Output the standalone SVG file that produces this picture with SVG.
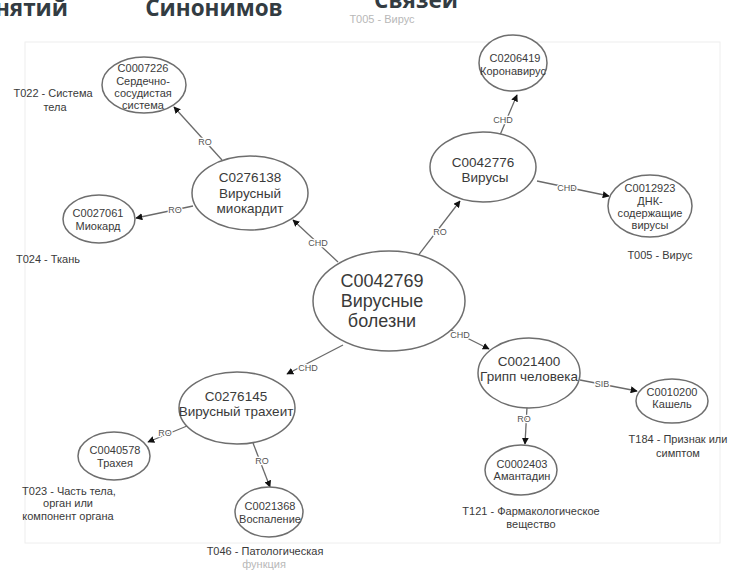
<svg xmlns="http://www.w3.org/2000/svg" width="730" height="570" viewBox="0 0 730 570">
<defs>
<style>
.title{font-family:"Open Sans","Liberation Sans",sans-serif;font-weight:bold;font-size:22.5px;fill:#333c42}
.node ellipse{fill:#ffffff;stroke:#6e6e6e;stroke-width:1.5}
.node text{font-family:"Liberation Sans",Arial,sans-serif;fill:#3a3a3a;text-anchor:middle}
.big{font-size:18px}
.mid{font-size:13.5px}
.sm{font-size:11px}
.type{font-family:"Liberation Sans",Arial,sans-serif;font-size:11px;fill:#3a3a3a;text-anchor:middle}
.faded{fill:#b8b8b8}
.edge line{stroke:#6a6a6a;stroke-width:1.3;marker-end:url(#arr)}
.lbl{font-family:"Liberation Sans",Arial,sans-serif;font-size:9px;fill:#555;text-anchor:middle;stroke:#fff;stroke-width:2.5px;paint-order:stroke;stroke-linejoin:round}
</style>
<marker id="arr" viewBox="0 0 10 10" refX="9" refY="5" markerWidth="7" markerHeight="7" markerUnits="userSpaceOnUse" orient="auto">
<path d="M0,0 L10,5 L0,10 z" fill="#111"/>
</marker>
</defs>
<rect width="730" height="570" fill="#ffffff"/>
<rect x="25" y="42" width="695" height="501" fill="none" stroke="#eeeeee" stroke-width="1"/>

<g id="titles">
<text class="title" x="68" y="16" text-anchor="end">нятий</text>
<text class="title" x="214" y="16" text-anchor="middle">Синонимов</text>
<text class="title" x="416" y="8" text-anchor="middle">Связей</text>
<text class="type faded" x="382" y="23" font-size="10">T005 - Вирус</text>
</g>

<g id="connectors">
<g class="edge">
<line x1="338" y1="262" x2="293" y2="220"/>
<line x1="222" y1="160" x2="174" y2="107"/>
<line x1="193" y1="206" x2="136" y2="218"/>
<line x1="417" y1="257" x2="460" y2="201"/>
<line x1="500" y1="135" x2="517" y2="95"/>
<line x1="537" y1="181" x2="609" y2="196"/>
<line x1="343" y1="345" x2="287" y2="374"/>
<line x1="187" y1="426" x2="148" y2="442"/>
<line x1="253" y1="443" x2="270" y2="487"/>
<line x1="447" y1="328" x2="489" y2="349"/>
<line x1="580" y1="380" x2="637" y2="391"/>
<line x1="527" y1="407" x2="525" y2="444"/>
</g>
<text class="lbl" x="318" y="246">CHD</text>
<text class="lbl" x="205" y="145">RO</text>
<text class="lbl" x="175" y="213">RO</text>
<text class="lbl" x="440" y="235">RO</text>
<text class="lbl" x="503" y="123">CHD</text>
<text class="lbl" x="567" y="191">CHD</text>
<text class="lbl" x="308" y="371">CHD</text>
<text class="lbl" x="165" y="436">RO</text>
<text class="lbl" x="262" y="464">RO</text>
<text class="lbl" x="460" y="338">CHD</text>
<text class="lbl" x="602" y="387" fill="#888">SIB</text>
<text class="lbl" x="524" y="422">RO</text>
</g>

<g id="C0042769" class="node">
<ellipse cx="389" cy="301" rx="76" ry="50"/>
<text class="big" x="382" y="287">C0042769</text>
<text class="big" x="382" y="307">Вирусные</text>
<text class="big" x="382" y="327">болезни</text>
</g>

<g id="C0276138" class="node">
<ellipse cx="250" cy="193" rx="58" ry="37"/>
<text class="mid" x="250" y="182">C0276138</text>
<text class="mid" x="250" y="198">Вирусный</text>
<text class="mid" x="250" y="213">миокардит</text>
</g>

<g id="C0007226" class="node">
<ellipse cx="144" cy="85" rx="42" ry="28"/>
<text class="sm" x="143" y="72">C0007226</text>
<text class="sm" x="143" y="85">Сердечно-</text>
<text class="sm" x="143" y="97">сосудистая</text>
<text class="sm" x="143" y="109">система</text>
</g>

<g id="C0027061" class="node">
<ellipse cx="99" cy="219" rx="36" ry="24"/>
<text class="sm" x="98" y="217">C0027061</text>
<text class="sm" x="98" y="230">Миокард</text>
</g>

<g id="C0206419" class="node">
<ellipse cx="513" cy="63" rx="34" ry="28"/>
<text class="sm" x="515" y="62">C0206419</text>
<text class="sm" x="513" y="75">Коронавирус</text>
</g>

<g id="C0042776" class="node">
<ellipse cx="483" cy="167" rx="53" ry="35"/>
<text class="mid" x="483" y="167">C0042776</text>
<text class="mid" x="485" y="182">Вирусы</text>
</g>

<g id="C0012923" class="node">
<ellipse cx="650" cy="206" rx="42" ry="31"/>
<text class="sm" x="650" y="192">C0012923</text>
<text class="sm" x="650" y="205">ДНК-</text>
<text class="sm" x="650" y="217">содержащие</text>
<text class="sm" x="650" y="229">вирусы</text>
</g>

<g id="C0276145" class="node">
<ellipse cx="237" cy="408" rx="58" ry="36"/>
<text class="mid" x="236" y="401">C0276145</text>
<text class="mid" x="236" y="416">Вирусный трахеит</text>
</g>

<g id="C0040578" class="node">
<ellipse cx="114" cy="456" rx="36" ry="24"/>
<text class="sm" x="115" y="454">C0040578</text>
<text class="sm" x="115" y="467">Трахея</text>
</g>

<g id="C0021368" class="node">
<ellipse cx="269" cy="512" rx="34" ry="25"/>
<text class="sm" x="270" y="510">C0021368</text>
<text class="sm" x="270" y="523">Воспаление</text>
</g>

<g id="C0021400" class="node">
<ellipse cx="529" cy="373" rx="51" ry="35"/>
<text class="mid" x="529" y="366">C0021400</text>
<text class="mid" x="529" y="381">Грипп человека</text>
</g>

<g id="C0010200" class="node">
<ellipse cx="672" cy="401" rx="36" ry="22"/>
<text class="sm" x="672" y="396">C0010200</text>
<text class="sm" x="672" y="408">Кашель</text>
</g>

<g id="C0002403" class="node">
<ellipse cx="521" cy="470" rx="36" ry="25"/>
<text class="sm" x="522" y="468">C0002403</text>
<text class="sm" x="522" y="480">Амантадин</text>
</g>

<g id="types">
<text class="type" x="53" y="97">T022 - Система</text>
<text class="type" x="55" y="111">тела</text>
<text class="type" x="48" y="263">T024 - Ткань</text>
<text class="type" x="660" y="259">T005 - Вирус</text>
<text class="type" x="69" y="495">T023 - Часть тела,</text>
<text class="type" x="68" y="507">орган или</text>
<text class="type" x="68" y="520">компонент органа</text>
<text class="type" x="265" y="555">T046 - Патологическая</text>
<text class="type faded" x="264" y="568">функция</text>
<text class="type" x="678" y="443">T184 - Признак или</text>
<text class="type" x="678" y="457">симптом</text>
<text class="type" x="531" y="515">T121 - Фармакологическое</text>
<text class="type" x="531" y="528">вещество</text>
</g>
</svg>
